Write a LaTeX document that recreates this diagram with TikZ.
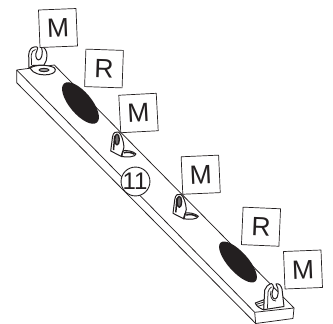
\documentclass[tikz,border=0pt]{standalone}
\usepackage{fontspec}
\setmainfont{Liberation Sans}
\definecolor{ink}{HTML}{231F20}
\tikzset{
  every picture/.style={x=1pt,y=-1pt,line join=round},
  tag/.style={draw=ink,fill=white,line width=0.7pt,minimum size=37.5pt,inner sep=0pt,text=ink,font=\fontsize{26.5}{26.5}\selectfont},
  ln/.style={draw=ink,line width=0.75pt},
  plate/.style={draw=ink,fill=white,line width=1pt},
  thick ln/.style={draw=ink,line width=1.5pt},
  blob/.style={fill=ink,draw=none},
  smallbracket/.pic={
    \path[plate] (121.5,151) .. controls (126,149.5) and (134,151.5) .. (136,154) .. controls (135.5,157) and (127,157.5) .. (121.5,156.5) -- cycle;
    \path[thick ln] (124,152.8) .. controls (127,151.5) and (132,152.5) .. (134.5,154.3);
    \path[plate] (110.7,151) -- (112.5,137) .. controls (113,132.5) and (116,131) .. (118.5,132) .. controls (121.5,134) and (123.5,141) .. (124,147) -- (123,151) -- (121.5,156.5) -- cycle;
    \path[thick ln] (113.5,150) -- (114.7,136);
    \path[draw=ink,fill=ink!65,line width=1.4pt] (117,139.5) ellipse [x radius=2.3,y radius=5.5];
    \path[thick ln] (121.5,156) -- (123,151);
  }
}
\begin{document}
\begin{tikzpicture}
\useasboundingbox (0,0) rectangle (333,324);
% bar
\path[ln] (54.3,65) -- (16.7,70) -- (254.7,312.3) -- (294,308) -- cycle;
\path[ln] (16.7,70) -- (16.7,82.7) -- (255.7,323.5) -- (293,318.5) -- (294,308);
\path[ln] (254.7,312.3) -- (255.7,323.5);
% dark ovals
\path[blob] (80.5,103) ellipse [x radius=25.5,y radius=11,rotate=-50];
\path[blob] (238,262) ellipse [x radius=26,y radius=10,rotate=-48];
% end bracket, upper left
\path[plate] (30,68) .. controls (36,64.5) and (47,64.5) .. (54,67.5) .. controls (57,70) and (55,73.5) .. (49,74.5) .. controls (41,75.5) and (33,74) .. (30,68) -- cycle;
\path[draw=ink,fill=ink!40,line width=1pt] (44,70) ellipse [x radius=5,y radius=1.6];
\path[plate] (29,68) -- (28.7,55) .. controls (29,50) and (31,47.3) .. (35,46.8)
  .. controls (38,46.5) and (38.5,48.5) .. (37,50.5) .. controls (35,54) and (35.5,59.5) .. (38.5,60)
  .. controls (41.5,60) and (43.5,53) .. (41.5,47) .. controls (44.5,46.5) and (47,51) .. (47,55.5) .. controls (47,59) and (46,62) .. (44,65) -- (33,65.5) -- cycle;
\path[ln] (31.5,65) -- (31.3,55) .. controls (31.5,52) and (33,50) .. (35.5,49.5);
% middle brackets
\pic at (0,0) {smallbracket};
\pic at (62.3,62.3) {smallbracket};
% end bracket, lower right
\path[plate] (264,299.7) -- (255.3,303) .. controls (256,306) and (260,308.5) .. (264,310) -- cycle;
\path[ln] (256,304.5) -- (264,302) (257,306.5) -- (264,304.5);
\path[plate] (263.7,309.7) -- (264.7,290) .. controls (265.5,287) and (268,284.5) .. (271.5,283.5)
  .. controls (273.5,284.5) and (274,288) .. (272.5,291) .. controls (271,295) and (273,299.5) .. (275.5,299)
  .. controls (278.5,298) and (279.5,289) .. (276,284) .. controls (279,283) and (281,285.5) .. (282,289) -- (284,306.5) -- cycle;
\path[ln] (267.5,308.5) -- (268,292) .. controls (268.5,289.5) and (270,288) .. (271.5,287);
\path[ln] (271,291) .. controls (269.5,295) and (271.5,301.5) .. (276,301);
% tags
\node[tag,rotate=2.3] (m1) at (58,28) {M};
\node[tag,rotate=-2] (r1) at (104,68.5) {R};
\node[tag,rotate=3] (m2) at (138.5,113) {M};
\node[tag,rotate=2.5] (m3) at (200.7,174.7) {M};
\node[tag,rotate=-2.5] (r2) at (261,226.7) {R};
\node[tag,rotate=2.3] (m4) at (303,269.5) {M};
% callout
\node[circle,draw=ink,fill=white,line width=0.9pt,minimum size=27pt,inner sep=0pt,text=ink,font=\fontsize{24}{24}\selectfont] (num) at (135.5,181.5) {\kern-1pt 1\kern-2pt 1};
\end{tikzpicture}
\end{document}
